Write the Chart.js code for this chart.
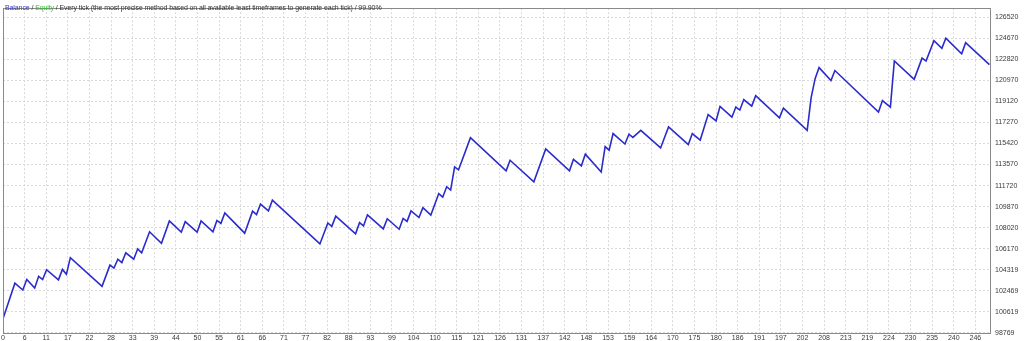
<!DOCTYPE html>
<html>
<head>
<meta charset="utf-8">
<title>Balance / Equity</title>
<script src="https://cdn.jsdelivr.net/npm/chart.js@4"></script>
<style>
    html, body { margin: 0; padding: 0; background: #fff; }
    #wrap { position: relative; width: 1024px; height: 341px; }
    #legend {
        position: absolute; left: 5px; top: 4px;
        font: 7px "Liberation Sans", Arial, sans-serif;
        letter-spacing: -0.1px;
        color: #333; white-space: nowrap;
    }
</style>
</head>
<body>
<div id="wrap">
    <canvas id="chart" width="1024" height="341"></canvas>
    <div id="legend"><span style="color:#3333cc">Balance</span> / <span style="color:#33bb33">Equity</span> / Every tick (the most precise method based on all available least timeframes to generate each tick) / 99.90%</div>
</div>
<script>
// Balance curve turning points (trade number, balance)
const tradeIdx = [0, 3, 5, 6, 8, 9, 10, 11, 14, 15, 16, 17, 25, 27, 28, 29, 30, 31, 33, 34,
    35, 37, 40, 42, 45, 46, 49, 50, 53, 54, 55, 56, 61, 63, 64, 65, 67, 68, 80, 82,
    83, 84, 89, 90, 91, 92, 96, 97, 100, 101, 102, 103, 105, 106, 108, 110, 111, 112, 113, 114,
    115, 118, 127, 128, 134, 137, 143, 144, 146, 147, 151, 152, 153, 154, 157, 158, 159, 161, 166, 168,
    173, 174, 176, 178, 180, 181, 184, 185, 186, 187, 189, 190, 196, 197, 203, 204, 205, 206, 209, 210,
    221, 222, 224, 225, 230, 232, 233, 235, 237, 238, 242, 243, 249];
const balance = [100000, 103138, 102535, 103457, 102707, 103741, 103457, 104318, 103431, 104344, 103913, 105378, 102853, 104723, 104465, 105240, 104947, 105809, 105240, 106154,
    105809, 107653, 106645, 108601, 107619, 108541, 107619, 108601, 107653, 108653, 108394, 109316, 107532, 109463, 109170, 110092, 109488, 110436, 106585, 108429,
    108136, 109032, 107481, 108454, 108170, 109144, 107912, 108799, 107877, 108825, 108567, 109488, 108911, 109773, 109118, 111014, 110695, 111617, 111324, 113366,
    113108, 115925, 113021, 113944, 112048, 114943, 113021, 114030, 113452, 114486, 112909, 115150, 114831, 116296, 115374, 116236, 115951, 116580, 115029, 116873,
    115322, 116296, 115719, 117959, 117416, 118683, 117735, 118623, 118364, 119286, 118709, 119631, 117675, 118536, 116580, 119458, 121121, 122095, 120949, 121837,
    118192, 119200, 118623, 122673, 121061, 122931, 122673, 124456, 123793, 124680, 123302, 124284, 122354];

const xLabels = ['0', '6', '11', '17', '22', '28', '33', '39', '44', '50', '55', '61', '66', '71', '77', '82',
    '88', '93', '99', '104', '110', '115', '121', '126', '131', '137', '142', '148', '153', '159', '164', '170',
    '175', '180', '186', '191', '197', '202', '208', '213', '219', '224', '230', '235', '240', '246'];
const yLabels = ['98769', '100619', '102469', '104319', '106170', '108020', '109870', '111720',
    '113570', '115420', '117270', '119120', '120970', '122820', '124670', '126520'];

const X_STEP = 60 / 11;
const X_MAX = 249.4;
const Y_MIN = 98769;
const Y_STEP = 1850.07;
const Y_MAX = 127320;

const tickFont = { family: '"Liberation Sans", Arial, sans-serif', size: 7 };

// gray frame around the plot area
const framePlugin = {
    id: 'frame',
    afterDraw: (chart) => {
        const a = chart.chartArea;
        const ctx = chart.ctx;
        ctx.save();
        ctx.strokeStyle = '#8a8a8a';
        ctx.lineWidth = 1;
        ctx.strokeRect(Math.round(a.left) + 0.5, Math.round(a.top) + 0.5,
            Math.round(a.right - a.left) - 1, Math.round(a.bottom - a.top));
        ctx.restore();
    }
};

new Chart(document.getElementById('chart'), {
    type: 'line',
    data: {
        datasets: [{
            label: 'Balance',
            data: tradeIdx.map((t, i) => ({ x: t, y: balance[i] })),
            borderColor: '#2b2bcc',
            borderWidth: 1.6,
            pointRadius: 0,
            tension: 0,
            fill: false
        }]
    },
    options: {
        responsive: false,
        animation: false,
        layout: { padding: { left: 3, top: 2, right: 0, bottom: 0 } },
        plugins: {
            legend: { display: false },
            tooltip: { enabled: false }
        },
        scales: {
            x: {
                type: 'linear',
                min: 0,
                max: X_MAX,
                afterBuildTicks: (s) => { s.ticks = xLabels.map((l, k) => ({ value: k * X_STEP })); },
                afterFit: (s) => { s.height = 8; },
                ticks: {
                    autoSkip: false, maxRotation: 0, padding: 1,
                    font: tickFont, color: '#3a3a3a',
                    callback: (v, i) => xLabels[i]
                },
                grid: { color: '#d9d9d9', drawTicks: false },
                border: { display: false, dash: [2, 2] }
            },
            y: {
                position: 'right',
                min: Y_MIN,
                max: Y_MAX,
                afterBuildTicks: (s) => { s.ticks = yLabels.map((l, k) => ({ value: Y_MIN + k * Y_STEP })); },
                afterFit: (s) => { s.width = 33; },
                ticks: {
                    autoSkip: false, padding: 4,
                    font: tickFont, color: '#3a3a3a',
                    callback: (v, i) => yLabels[i]
                },
                grid: { color: '#d9d9d9', drawTicks: false },
                border: { display: false, dash: [2, 2] }
            }
        }
    },
    plugins: [framePlugin]
});
</script>
</body>
</html>
